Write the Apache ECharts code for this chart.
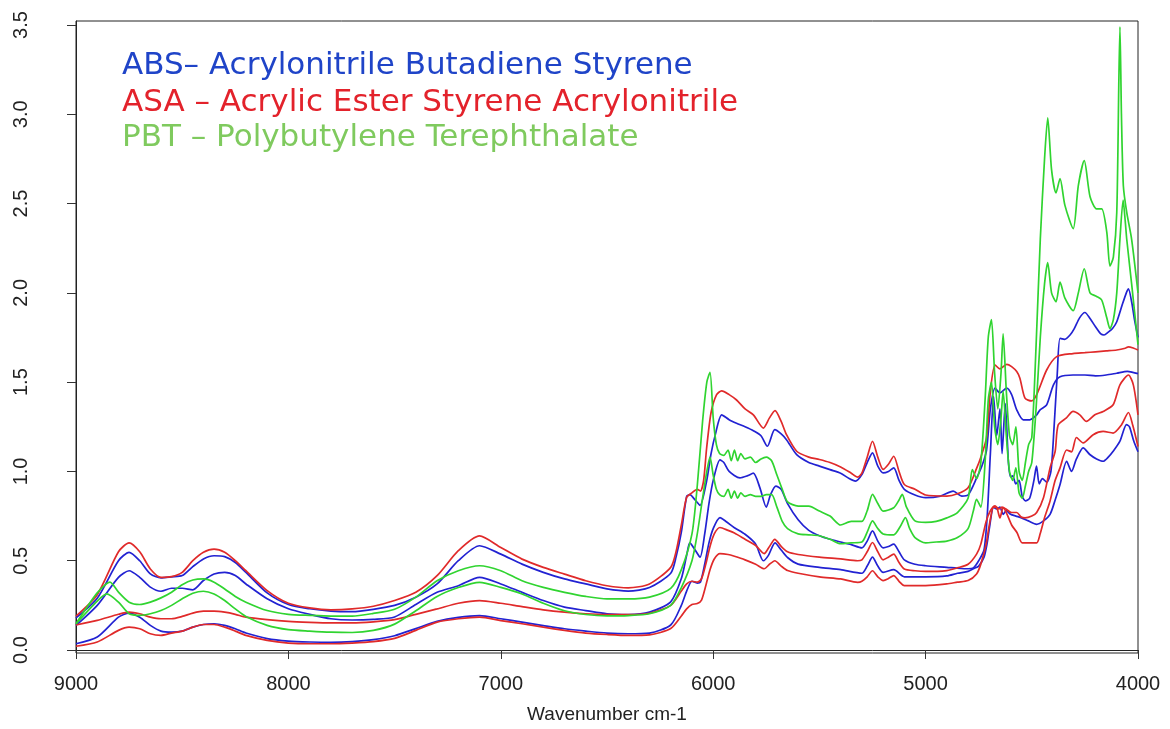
<!DOCTYPE html>
<html>
<head>
<meta charset="utf-8">
<title>NIR spectra ABS / ASA / PBT</title>
<script src="https://cdn.jsdelivr.net/npm/echarts@6/dist/echarts.min.js"></script>
<style>
  html, body { margin: 0; padding: 0; background: #fff; }
  #main { width: 1170px; height: 729px; }
</style>
</head>
<body>
<div id="main"></div>
<script>
// spectra: [wavenumber, absorbance]
var absTop = [[9000,0.18],[8900,0.29],[8800,0.50],[8750,0.547],[8700,0.50],[8650,0.426],[8600,0.404],[8550,0.41],[8500,0.417],[8450,0.467],[8400,0.51],[8350,0.528],[8300,0.523],[8250,0.49],[8200,0.435],[8100,0.32],[8000,0.255],[7900,0.231],[7800,0.218],[7700,0.215],[7600,0.228],[7500,0.25],[7400,0.296],[7300,0.37],[7200,0.50],[7100,0.584],[7000,0.537],[6900,0.481],[6800,0.435],[6700,0.398],[6600,0.37],[6500,0.342],[6400,0.33],[6300,0.35],[6200,0.43],[6175,0.52],[6150,0.66],[6125,0.86],[6110,0.87],[6085,0.84],[6062,0.81],[6031,0.946],[6010,1.10],[5990,1.206],[5960,1.317],[5925,1.29],[5890,1.27],[5850,1.25],[5811,1.228],[5775,1.20],[5745,1.141],[5710,1.234],[5680,1.21],[5655,1.178],[5607,1.094],[5550,1.05],[5500,1.03],[5450,1.01],[5400,0.99],[5360,0.96],[5330,0.946],[5300,0.983],[5275,1.05],[5250,1.104],[5225,1.03],[5200,0.992],[5175,1.0],[5150,1.02],[5125,0.95],[5100,0.90],[5050,0.868],[5000,0.853],[4930,0.862],[4870,0.89],[4830,0.862],[4800,0.868],[4759,0.965],[4735,1.03],[4713,1.12],[4695,1.35],[4673,1.466],[4650,1.44],[4618,1.466],[4595,1.43],[4571,1.345],[4540,1.289],[4509,1.289],[4477,1.317],[4461,1.345],[4430,1.373],[4398,1.485],[4367,1.53],[4306,1.54],[4250,1.54],[4200,1.535],[4150,1.54],[4100,1.55],[4050,1.56],[4025,1.555],[4000,1.548]];
var absMid = [[9000,0.138],[8900,0.25],[8800,0.407],[8750,0.444],[8700,0.407],[8650,0.352],[8600,0.329],[8550,0.346],[8500,0.346],[8450,0.337],[8400,0.389],[8350,0.426],[8300,0.435],[8250,0.417],[8200,0.37],[8100,0.287],[8000,0.231],[7900,0.20],[7800,0.175],[7700,0.168],[7600,0.172],[7500,0.185],[7400,0.255],[7300,0.323],[7200,0.36],[7100,0.407],[7000,0.37],[6900,0.323],[6800,0.277],[6700,0.24],[6600,0.221],[6500,0.203],[6400,0.199],[6300,0.212],[6200,0.27],[6150,0.40],[6125,0.53],[6110,0.60],[6085,0.56],[6062,0.52],[6040,0.65],[6020,0.82],[6000,0.95],[5968,1.065],[5950,1.05],[5925,1.0],[5874,0.964],[5840,0.975],[5811,0.99],[5780,0.908],[5750,0.80],[5730,0.87],[5705,0.918],[5680,0.90],[5650,0.82],[5600,0.73],[5550,0.67],[5500,0.64],[5450,0.62],[5400,0.605],[5350,0.59],[5300,0.572],[5275,0.61],[5250,0.667],[5225,0.61],[5200,0.572],[5175,0.58],[5150,0.593],[5125,0.55],[5100,0.505],[5050,0.48],[5000,0.472],[4900,0.463],[4850,0.458],[4800,0.455],[4775,0.46],[4750,0.50],[4725,0.56],[4710,0.75],[4695,1.1],[4680,1.42],[4665,1.20],[4650,1.35],[4640,1.10],[4625,1.38],[4610,1.05],[4600,0.97],[4590,0.975],[4575,0.93],[4560,0.95],[4545,0.86],[4530,0.835],[4510,0.85],[4490,0.95],[4478,1.03],[4465,0.93],[4450,0.96],[4430,0.94],[4410,1.0],[4395,1.25],[4380,1.55],[4367,1.745],[4345,1.74],[4320,1.764],[4300,1.80],[4275,1.86],[4250,1.89],[4225,1.855],[4200,1.81],[4175,1.77],[4160,1.764],[4140,1.78],[4120,1.80],[4100,1.838],[4075,1.93],[4055,2.0],[4045,2.023],[4030,1.95],[4015,1.84],[4000,1.75]];
var absLow = [[9000,0.035],[8900,0.073],[8800,0.184],[8750,0.207],[8700,0.184],[8650,0.138],[8600,0.106],[8550,0.10],[8500,0.106],[8450,0.128],[8400,0.143],[8350,0.147],[8300,0.138],[8250,0.119],[8200,0.095],[8100,0.064],[8000,0.05],[7900,0.045],[7800,0.043],[7700,0.047],[7600,0.058],[7500,0.08],[7400,0.12],[7300,0.16],[7200,0.183],[7100,0.193],[7000,0.175],[6900,0.156],[6800,0.137],[6700,0.119],[6600,0.106],[6500,0.095],[6400,0.091],[6300,0.095],[6200,0.14],[6150,0.25],[6125,0.33],[6100,0.385],[6075,0.375],[6060,0.38],[6040,0.48],[6020,0.60],[6000,0.68],[5968,0.741],[5940,0.72],[5900,0.685],[5850,0.648],[5800,0.593],[5764,0.50],[5740,0.53],[5709,0.60],[5680,0.56],[5650,0.518],[5600,0.481],[5500,0.463],[5400,0.45],[5300,0.43],[5275,0.47],[5250,0.52],[5225,0.47],[5200,0.435],[5150,0.45],[5100,0.41],[5000,0.41],[4900,0.415],[4850,0.43],[4800,0.44],[4775,0.455],[4750,0.47],[4725,0.52],[4710,0.60],[4700,0.68],[4680,0.80],[4665,0.79],[4650,0.80],[4635,0.76],[4620,0.78],[4600,0.76],[4575,0.75],[4548,0.74],[4516,0.723],[4477,0.704],[4445,0.723],[4414,0.76],[4390,0.84],[4367,0.927],[4336,1.057],[4313,1.0],[4290,1.07],[4258,1.132],[4227,1.095],[4195,1.07],[4164,1.057],[4140,1.08],[4117,1.113],[4085,1.17],[4054,1.262],[4040,1.25],[4020,1.17],[4000,1.11]];

var asaTop = [[9000,0.19],[8900,0.31],[8800,0.55],[8750,0.60],[8700,0.55],[8650,0.454],[8600,0.407],[8550,0.411],[8500,0.435],[8450,0.50],[8400,0.547],[8350,0.565],[8300,0.547],[8250,0.50],[8200,0.444],[8100,0.333],[8000,0.262],[7900,0.236],[7800,0.225],[7700,0.23],[7600,0.245],[7500,0.277],[7400,0.323],[7300,0.416],[7200,0.556],[7100,0.639],[7000,0.574],[6900,0.509],[6800,0.463],[6700,0.425],[6600,0.388],[6500,0.36],[6400,0.348],[6300,0.37],[6200,0.463],[6175,0.55],[6150,0.70],[6125,0.855],[6100,0.88],[6075,0.90],[6060,0.89],[6045,0.95],[6031,1.13],[6010,1.33],[5984,1.43],[5960,1.451],[5925,1.43],[5890,1.40],[5850,1.35],[5811,1.317],[5764,1.243],[5735,1.30],[5709,1.34],[5680,1.28],[5655,1.206],[5607,1.113],[5550,1.08],[5500,1.067],[5450,1.05],[5400,1.025],[5350,0.99],[5320,0.968],[5300,0.99],[5275,1.08],[5250,1.169],[5225,1.08],[5200,1.011],[5175,1.04],[5150,1.085],[5125,1.0],[5100,0.927],[5050,0.90],[5000,0.868],[4900,0.862],[4850,0.875],[4800,0.909],[4759,1.02],[4740,1.08],[4713,1.19],[4695,1.45],[4673,1.596],[4650,1.574],[4618,1.60],[4595,1.587],[4571,1.559],[4556,1.522],[4532,1.41],[4501,1.395],[4477,1.43],[4430,1.568],[4383,1.643],[4306,1.66],[4250,1.665],[4200,1.67],[4150,1.675],[4100,1.68],[4060,1.69],[4045,1.698],[4020,1.69],[4000,1.68]];
var asaMid = [[9000,0.14],[8900,0.166],[8800,0.20],[8750,0.212],[8700,0.203],[8650,0.184],[8600,0.175],[8550,0.175],[8500,0.188],[8450,0.207],[8400,0.218],[8350,0.218],[8300,0.212],[8250,0.20],[8200,0.184],[8100,0.17],[8000,0.16],[7900,0.155],[7800,0.152],[7700,0.152],[7600,0.158],[7500,0.17],[7400,0.20],[7300,0.23],[7200,0.262],[7100,0.277],[7000,0.262],[6900,0.243],[6800,0.225],[6700,0.212],[6600,0.203],[6500,0.199],[6400,0.199],[6300,0.206],[6200,0.25],[6150,0.33],[6125,0.37],[6100,0.385],[6075,0.38],[6055,0.40],[6035,0.48],[6015,0.58],[5995,0.65],[5968,0.686],[5930,0.67],[5900,0.655],[5850,0.62],[5800,0.585],[5760,0.54],[5735,0.58],[5710,0.62],[5680,0.58],[5650,0.55],[5600,0.535],[5500,0.52],[5400,0.51],[5320,0.50],[5300,0.505],[5275,0.55],[5250,0.602],[5225,0.55],[5200,0.505],[5175,0.52],[5150,0.537],[5125,0.49],[5100,0.454],[5050,0.444],[5000,0.44],[4900,0.445],[4850,0.46],[4800,0.48],[4760,0.537],[4740,0.593],[4715,0.72],[4695,0.78],[4673,0.807],[4655,0.79],[4640,0.80],[4620,0.788],[4595,0.77],[4571,0.77],[4550,0.745],[4532,0.74],[4500,0.75],[4477,0.77],[4445,0.853],[4414,1.02],[4390,1.113],[4376,1.26],[4337,1.30],[4306,1.336],[4274,1.317],[4243,1.28],[4203,1.317],[4164,1.336],[4117,1.373],[4085,1.485],[4045,1.54],[4022,1.485],[4000,1.317]];
var asaLow = [[9000,0.021],[8900,0.045],[8800,0.11],[8750,0.128],[8700,0.119],[8650,0.091],[8600,0.082],[8550,0.095],[8500,0.106],[8450,0.128],[8400,0.143],[8350,0.143],[8300,0.128],[8250,0.106],[8200,0.082],[8100,0.054],[8000,0.039],[7900,0.035],[7800,0.035],[7700,0.039],[7600,0.047],[7500,0.065],[7400,0.11],[7300,0.156],[7200,0.175],[7100,0.184],[7000,0.165],[6900,0.147],[6800,0.128],[6700,0.11],[6600,0.095],[6500,0.087],[6400,0.082],[6300,0.085],[6200,0.12],[6150,0.19],[6125,0.23],[6100,0.255],[6075,0.26],[6055,0.28],[6035,0.36],[6015,0.45],[5995,0.51],[5968,0.54],[5930,0.535],[5900,0.525],[5850,0.505],[5800,0.48],[5760,0.455],[5735,0.48],[5710,0.50],[5680,0.47],[5650,0.445],[5600,0.43],[5500,0.41],[5400,0.398],[5320,0.379],[5300,0.385],[5275,0.41],[5250,0.444],[5225,0.41],[5200,0.389],[5175,0.40],[5150,0.417],[5125,0.385],[5100,0.361],[5000,0.361],[4900,0.37],[4850,0.38],[4800,0.389],[4760,0.426],[4740,0.481],[4715,0.593],[4700,0.70],[4680,0.80],[4665,0.797],[4650,0.74],[4635,0.797],[4620,0.77],[4595,0.70],[4570,0.658],[4545,0.60],[4510,0.60],[4477,0.60],[4461,0.649],[4440,0.74],[4414,0.835],[4390,0.95],[4367,1.02],[4336,1.12],[4313,1.11],[4290,1.19],[4258,1.16],[4211,1.206],[4164,1.224],[4117,1.215],[4078,1.26],[4045,1.33],[4025,1.26],[4000,1.14]];

var pbtTop = [[9000,0.147],[8900,0.32],[8840,0.38],[8800,0.324],[8750,0.268],[8700,0.255],[8650,0.268],[8600,0.292],[8550,0.324],[8500,0.366],[8450,0.392],[8400,0.398],[8350,0.38],[8300,0.342],[8250,0.30],[8200,0.268],[8100,0.221],[8000,0.20],[7900,0.194],[7800,0.19],[7700,0.19],[7600,0.205],[7500,0.228],[7400,0.296],[7300,0.388],[7200,0.444],[7100,0.472],[7000,0.444],[6900,0.388],[6800,0.351],[6700,0.323],[6600,0.30],[6500,0.286],[6400,0.286],[6300,0.296],[6200,0.345],[6150,0.45],[6100,0.65],[6075,0.92],[6050,1.28],[6030,1.50],[6015,1.555],[6000,1.30],[5985,1.15],[5970,1.10],[5950,1.09],[5930,1.12],[5915,1.06],[5900,1.12],[5885,1.06],[5870,1.10],[5850,1.07],[5825,1.08],[5800,1.05],[5775,1.07],[5750,1.08],[5725,1.06],[5700,0.98],[5675,0.90],[5650,0.83],[5600,0.806],[5550,0.806],[5500,0.778],[5450,0.75],[5400,0.70],[5350,0.72],[5300,0.72],[5275,0.78],[5250,0.871],[5225,0.82],[5200,0.778],[5150,0.797],[5125,0.84],[5110,0.871],[5090,0.80],[5050,0.723],[5000,0.715],[4950,0.72],[4900,0.74],[4850,0.77],[4800,0.85],[4780,1.01],[4760,0.96],[4740,1.05],[4720,1.40],[4705,1.75],[4690,1.85],[4675,1.55],[4660,1.35],[4645,1.55],[4635,1.77],[4620,1.45],[4605,1.2],[4590,1.15],[4575,1.25],[4560,1.0],[4545,0.95],[4530,1.05],[4515,1.15],[4500,1.19],[4480,1.7],[4460,2.3],[4440,2.75],[4425,2.98],[4407,2.69],[4386,2.56],[4367,2.64],[4344,2.49],[4305,2.36],[4281,2.6],[4253,2.74],[4226,2.54],[4195,2.47],[4171,2.47],[4147,2.34],[4132,2.15],[4116,2.2],[4100,2.45],[4090,3.2],[4085,3.49],[4078,3.0],[4069,2.6],[4053,2.45],[4030,2.3],[4000,2.0]];
var pbtLow = [[9000,0.147],[8900,0.274],[8855,0.314],[8800,0.268],[8750,0.203],[8700,0.194],[8650,0.203],[8600,0.221],[8550,0.25],[8500,0.287],[8450,0.318],[8400,0.329],[8350,0.314],[8300,0.277],[8250,0.23],[8200,0.188],[8100,0.138],[8000,0.114],[7900,0.106],[7800,0.10],[7700,0.098],[7600,0.11],[7500,0.145],[7400,0.22],[7300,0.30],[7200,0.35],[7100,0.379],[7000,0.351],[6900,0.314],[6800,0.262],[6700,0.22],[6600,0.199],[6500,0.191],[6400,0.193],[6300,0.203],[6200,0.25],[6150,0.35],[6100,0.50],[6075,0.65],[6050,0.85],[6030,1.0],[6015,1.08],[6000,0.98],[5985,0.90],[5970,0.87],[5950,0.86],[5930,0.90],[5915,0.85],[5900,0.89],[5885,0.85],[5870,0.88],[5850,0.86],[5825,0.87],[5800,0.86],[5775,0.86],[5750,0.87],[5725,0.87],[5700,0.80],[5675,0.72],[5650,0.68],[5600,0.65],[5550,0.645],[5500,0.64],[5450,0.62],[5400,0.595],[5350,0.60],[5300,0.605],[5275,0.66],[5250,0.723],[5225,0.68],[5200,0.65],[5150,0.645],[5120,0.69],[5095,0.741],[5075,0.68],[5050,0.63],[5000,0.60],[4950,0.605],[4900,0.61],[4850,0.63],[4800,0.68],[4775,0.78],[4760,0.844],[4740,0.80],[4720,1.05],[4705,1.40],[4690,1.50],[4675,1.25],[4660,1.15],[4645,1.30],[4635,1.45],[4620,1.20],[4605,1.00],[4590,0.95],[4575,1.02],[4560,0.88],[4545,0.85],[4530,0.92],[4515,1.0],[4500,1.05],[4480,1.35],[4460,1.75],[4440,2.05],[4425,2.17],[4407,2.0],[4386,1.95],[4367,2.06],[4344,1.97],[4305,1.90],[4281,2.0],[4253,2.135],[4226,2.0],[4195,1.98],[4171,1.96],[4147,1.86],[4132,1.80],[4116,1.85],[4100,2.0],[4085,2.3],[4070,2.52],[4060,2.4],[4053,2.3],[4030,2.05],[4000,1.71]];

var yTicks = [0, 0.5, 1.0, 1.5, 2.0, 2.5, 3.0, 3.5];
var legendLabels = [
    'ABS\u2013 Acrylonitrile Butadiene Styrene',
    'ASA \u2013 Acrylic Ester Styrene Acrylonitrile',
    'PBT \u2013 Polybutylene Terephthalate'
];

var BLUE = '#2222d2', RED = '#e02a2a', GREEN = '#30d430';
var axisFont = 'Liberation Sans';
var legendFont = '31px "DejaVu Sans"';

var myChart = echarts.init(document.getElementById('main'));

function spectrum(name, data, color) {
    return {
        name: name,
        type: 'line',
        data: data,
        showSymbol: false,
        symbol: 'none',
        smooth: 0.25,
        lineStyle: { color: color, width: 1.7 },
        emphasis: { disabled: true }
    };
}

var option = {
    animation: false,
    backgroundColor: '#fff',
    grid: {
        left: 76, right: 32, top: 21, bottom: 73,
        show: true, borderColor: '#222', borderWidth: 1
    },
    xAxis: {
        type: 'value',
        inverse: true,
        min: 4000, max: 9000, interval: 1000,
        name: 'Wavenumber cm-1',
        nameLocation: 'middle',
        nameGap: 52,
        nameTextStyle: { fontFamily: axisFont, fontSize: 19, color: '#222' },
        axisLine: { show: true, lineStyle: { color: '#222' } },
        axisTick: { show: true, length: 9, lineStyle: { color: '#333' } },
        axisLabel: {
            fontFamily: axisFont, fontSize: 20, color: '#222', margin: 21,
            formatter: function (v) { return String(v); }
        },
        splitLine: { show: false }
    },
    yAxis: {
        type: 'value',
        min: -0.0167, max: 3.5223,
        axisLine: { show: true, lineStyle: { color: '#222' } },
        axisTick: { show: true, length: 9, customValues: yTicks, lineStyle: { color: '#333' } },
        axisLabel: {
            customValues: yTicks,
            rotate: 90,
            margin: 45,
            fontFamily: axisFont, fontSize: 20, color: '#222',
            formatter: function (v) { return v.toFixed(1); }
        },
        splitLine: { show: false }
    },
    graphic: [
        { type: 'text', x: 122, y: 66, style: { text: legendLabels[0], fill: '#1f44c8', font: legendFont, verticalAlign: 'middle' } },
        { type: 'text', x: 122, y: 103, style: { text: legendLabels[1], fill: '#e3222b', font: legendFont, verticalAlign: 'middle' } },
        { type: 'text', x: 122, y: 138, style: { text: legendLabels[2], fill: '#7fca5e', font: legendFont, verticalAlign: 'middle' } }
    ],
    series: [
        spectrum('ABS', absTop, BLUE),
        spectrum('ABS', absMid, BLUE),
        spectrum('ABS', absLow, BLUE),
        spectrum('ASA', asaTop, RED),
        spectrum('ASA', asaMid, RED),
        spectrum('ASA', asaLow, RED),
        spectrum('PBT', pbtTop, GREEN),
        spectrum('PBT', pbtLow, GREEN)
    ]
};

myChart.setOption(option);
</script>
</body>
</html>
